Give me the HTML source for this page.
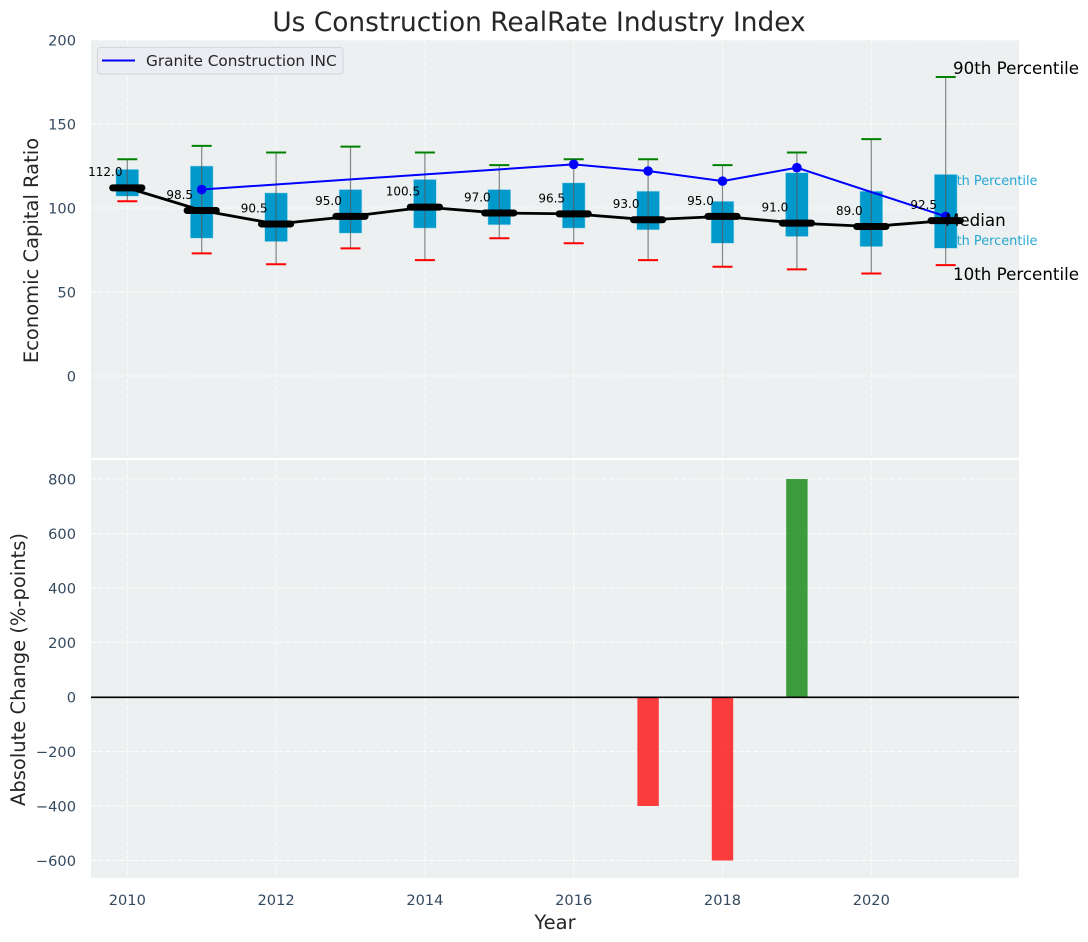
<!DOCTYPE html>
<html>
<head>
<meta charset="utf-8">
<style>
html,body{margin:0;padding:0;background:#fff;width:1088px;height:942px;overflow:hidden}
svg{display:block}
text{font-family:"DejaVu Sans","Liberation Sans",sans-serif}
.tick{font-size:14.6px;fill:#34495e}
.axis-title{font-size:19.5px;fill:#262626}
</style>
</head>
<body>
<svg id="chart" xmlns="http://www.w3.org/2000/svg" width="1088" height="942" viewBox="0 0 1088 942">
<rect x="0" y="0" width="1088" height="942" fill="#fff"/>
<rect x="91" y="40" width="928" height="418" fill="#ecf0f1"/>
<rect x="91" y="460" width="928" height="418" fill="#ecf0f1"/>
<g id="grid"></g>
<g id="ticks"></g>
<text x="539" y="31" text-anchor="middle" font-size="26.4" fill="#262626">Us Construction RealRate Industry Index</text>
<text class="axis-title" transform="translate(38,250.5) rotate(-90)" text-anchor="middle">Economic Capital Ratio</text>
<text class="axis-title" transform="translate(25,669.5) rotate(-90)" text-anchor="middle">Absolute Change (%-points)</text>
<text class="axis-title" x="555" y="929" text-anchor="middle">Year</text>
<g id="percentile-labels-under">
<text x="1037.5" y="185" text-anchor="end" font-size="12.9" fill="#0099cc" fill-opacity="0.85">75th Percentile</text>
<text x="1037.5" y="245" text-anchor="end" font-size="12.9" fill="#0099cc" fill-opacity="0.85">25th Percentile</text>
</g>
<g id="marks"></g>
<g id="bars"></g>
<line x1="91" x2="1019" y1="697.3" y2="697.3" stroke="#000" stroke-width="1.6"/>
<g>
<rect x="97.5" y="47.5" width="245.5" height="26.5" rx="3" fill="#ebedf2" stroke="#d4d6da" stroke-width="1"/>
<line x1="102" x2="135" y1="60.5" y2="60.5" stroke="#0000ff" stroke-width="2"/>
<text x="146" y="66" font-size="15.3" fill="#262626">Granite Construction INC</text>
</g>
<g>
<text x="953" y="74" font-size="16.7" fill="#000">90th Percentile</text>
<text x="945" y="226" font-size="16.7" fill="#000">Median</text>
<text x="953" y="280" font-size="16.7" fill="#000">10th Percentile</text>
</g>
</svg>
<script>
var years = [2010, 2011, 2012, 2013, 2014, 2015, 2016, 2017, 2018, 2019, 2020, 2021];
var p90 = [129, 137, 133, 136.5, 133, 125.5, 129, 129, 125.5, 133, 141, 178];
var p75 = [123, 125, 109, 111, 117, 111, 115, 110, 104, 121, 110, 120];
var medians = [112, 98.5, 90.5, 95, 100.5, 97, 96.5, 93, 95, 91, 89, 92.5];
var p25 = [107, 82, 80, 85, 88, 90, 88, 87, 79, 83, 77, 76];
var p10 = [104, 73, 66.5, 76, 69, 82, 79, 69, 65, 63.5, 61, 66];
var granite = [null, 111, null, null, null, null, 126, 122, 116, 124, null, 95];
var changes = [null, null, null, null, null, null, null, -400, -600, 800, null, null];
var xTickLabels = [2010, 2012, 2014, 2016, 2018, 2020];
var topTickLabels = [0, 50, 100, 150, 200];
var bottomTickLabels = [-600, -400, -200, 0, 200, 400, 600, 800];

var NS = 'http://www.w3.org/2000/svg';
function xScale(v){ return 127.3 + (v - 2010) * 74.4; }
function yTop(v){ return 376 - v * 1.68; }
function yBottom(v){ return 697 - v * 0.2725; }
function mk(tag, parent, attrs){
  var el = document.createElementNS(NS, tag);
  for (var k in attrs) el.setAttribute(k, attrs[k]);
  parent.appendChild(el);
  return el;
}
var grid = document.getElementById('grid');
var ticks = document.getElementById('ticks');
var marks = document.getElementById('marks');
var bars = document.getElementById('bars');
var dash = {stroke:'#fff', 'stroke-width':1, 'stroke-dasharray':'5 2.2', 'stroke-opacity':0.8};
function gridLine(x1, y1, x2, y2){
  var a = {x1:x1, y1:y1, x2:x2, y2:y2};
  for (var k in dash) a[k] = dash[k];
  var el = mk('line', grid, a);
  
  
}
xTickLabels.forEach(function(t){
  var x = xScale(t);
  gridLine(x, 40, x, 458);
  gridLine(x, 460, x, 878);
  var el = mk('text', ticks, {x:x, y:905, 'text-anchor':'middle', 'class':'tick'});
  
  
  el.textContent = t;
});
topTickLabels.forEach(function(t){
  var y = yTop(t);
  gridLine(91, y, 1019, y);
  var el = mk('text', ticks, {x:76, y:y + 5.3, 'text-anchor':'end', 'class':'tick'});
  
  
  el.textContent = t;
});
bottomTickLabels.forEach(function(t){
  var y = yBottom(t);
  if (t !== 0) gridLine(91, y, 1019, y);
  var el = mk('text', ticks, {x:76, y:y + 5.3, 'text-anchor':'end', 'class':'tick'});
  
  
  el.textContent = String(t).replace('-', '\u2212');
});

// interquartile boxes
years.forEach(function(yr, i){
  var box = mk('rect', marks, {x:xScale(yr) - 11.4, y:yTop(p75[i]), width:22.8, height:yTop(p25[i]) - yTop(p75[i]), fill:'#0099cc', stroke:'#a8dcec', 'stroke-width':0.6});
  
  
});
// whiskers and caps
years.forEach(function(yr, i){
  var x = xScale(yr);
  var w = mk('line', marks, {x1:x, x2:x, y1:yTop(p10[i]), y2:yTop(p90[i]), stroke:'#555', 'stroke-opacity':0.7, 'stroke-width':1.2});
  
  
  var hi = mk('line', marks, {x1:x - 10, x2:x + 10, y1:yTop(p90[i]), y2:yTop(p90[i]), stroke:'#008000', 'stroke-width':2});
  
  
  var lo = mk('line', marks, {x1:x - 10, x2:x + 10, y1:yTop(p10[i]), y2:yTop(p10[i]), stroke:'#ff0000', 'stroke-width':2});
  
  
});
// company line
var pts = [];
years.forEach(function(yr, i){
  if (granite[i] !== null) pts.push(xScale(yr) + ',' + yTop(granite[i]));
});
var gl = mk('polyline', marks, {points:pts.join(' '), fill:'none', stroke:'#0000ff', 'stroke-width':2});


years.forEach(function(yr, i){
  if (granite[i] === null) return;
  var d = mk('circle', marks, {cx:xScale(yr), cy:yTop(granite[i]), r:4.8, fill:'#0000ff'});
  
  
});
// median line and thick markers
var mp = years.map(function(yr, i){ return xScale(yr) + ',' + yTop(medians[i]); });
var ml = mk('polyline', marks, {points:mp.join(' '), fill:'none', stroke:'#000', 'stroke-width':2.8});


years.forEach(function(yr, i){
  var x = xScale(yr), y = yTop(medians[i]);
  var m = mk('line', marks, {x1:x - 14.6, x2:x + 14.6, y1:y, y2:y, stroke:'#000', 'stroke-width':7, 'stroke-linecap':'round'});
  
  
  var t = mk('text', marks, {x:x - 22, y:y - 11.6, 'text-anchor':'middle', 'font-size':12, fill:'#000'});
  
  
  t.textContent = medians[i].toFixed(1);
});
// change bars
years.forEach(function(yr, i){
  if (changes[i] === null) return;
  var c = changes[i];
  var y0 = yBottom(0), y1 = yBottom(c);
  var b = mk('rect', bars, {x:xScale(yr) - 10.7, y:Math.min(y0, y1), width:21.4, height:Math.abs(y1 - y0), fill:c < 0 ? '#ff0000' : '#008000', 'fill-opacity':0.75});
  
  
});
</script>
</body>
</html>
